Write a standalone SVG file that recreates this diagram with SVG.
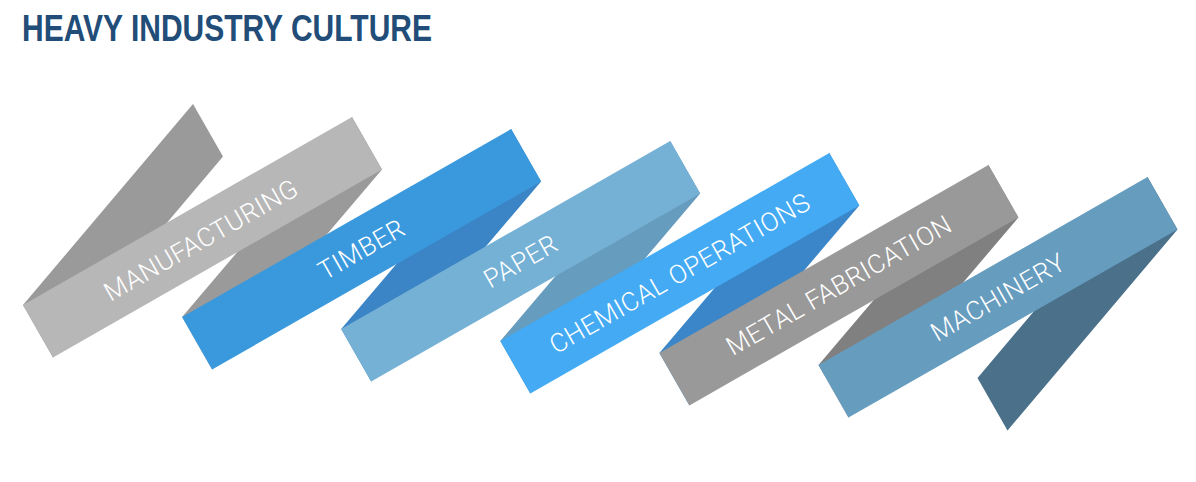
<svg xmlns="http://www.w3.org/2000/svg" width="1196" height="482" viewBox="0 0 1196 482">
<style>
.lbl{font-family:Roboto,"Open Sans","Liberation Sans",sans-serif;font-weight:300;font-size:26px;letter-spacing:0.5px;fill:#ffffff;text-anchor:middle}
.title{font-family:"Liberation Sans",Arial,sans-serif;font-weight:700;font-size:37px;fill:#214d78}
</style>
<rect width="1196" height="482" fill="#ffffff"/>
<text class="title" x="22" y="41" textLength="410" lengthAdjust="spacingAndGlyphs">HEAVY INDUSTRY CULTURE</text>
<g id="connectors">
<polygon points="193,104 223,156.5 53,357.5 23,305" fill="#9a9a9a"/>
<polygon points="352,117 382,169.5 212.1,369.5 182.1,317" fill="#9a9a9a"/>
<polygon points="511.1,129 541.1,181.5 371.2,381.5 341.2,329" fill="#3b85c6"/>
<polygon points="670.2,141 700.2,193.5 530.3,393.5 500.3,341" fill="#669cbd"/>
<polygon points="829.3,153 859.3,205.5 689.4,405.5 659.4,353" fill="#3b86c8"/>
<polygon points="988.4,165 1018.4,217.5 848.5,417.5 818.5,365" fill="#808080"/>
<polygon points="1147.5,177 1177.5,229.5 1007.5,430.5 977.5,378" fill="#4a7189"/>
</g>
<g id="manufacturing">
<polygon points="23,305 352,117 382,169.5 53,357.5" fill="#b7b7b7"/>
<text class="lbl" transform="translate(201,240) rotate(-29.74)" x="0" y="9">MANUFACTURING</text>
</g>
<g id="timber">
<polygon points="182.1,317 511.1,129 541.1,181.5 212.1,369.5" fill="#3a99dd"/>
<text class="lbl" transform="translate(361.6,249.25) rotate(-29.74)" x="0" y="9">TIMBER</text>
</g>
<g id="paper">
<polygon points="341.2,329 670.2,141 700.2,193.5 371.2,381.5" fill="#75b0d5"/>
<text class="lbl" transform="translate(520.7,261.25) rotate(-29.74)" x="0" y="9">PAPER</text>
</g>
<g id="chemical-operations">
<polygon points="500.3,341 829.3,153 859.3,205.5 530.3,393.5" fill="#43aaf3"/>
<text class="lbl" transform="translate(679.8,273.25) rotate(-29.74)" x="0" y="9">CHEMICAL OPERATIONS</text>
</g>
<g id="metal-fabrication">
<polygon points="659.4,353 988.4,165 1018.4,217.5 689.4,405.5" fill="#999999"/>
<text class="lbl" transform="translate(838.9,285.25) rotate(-29.74)" x="0" y="9">METAL FABRICATION</text>
</g>
<g id="machinery">
<polygon points="818.5,365 1147.5,177 1177.5,229.5 848.5,417.5" fill="#669cbe"/>
<text class="lbl" transform="translate(998,297.25) rotate(-29.74)" x="0" y="9">MACHINERY</text>
</g>
</svg>
